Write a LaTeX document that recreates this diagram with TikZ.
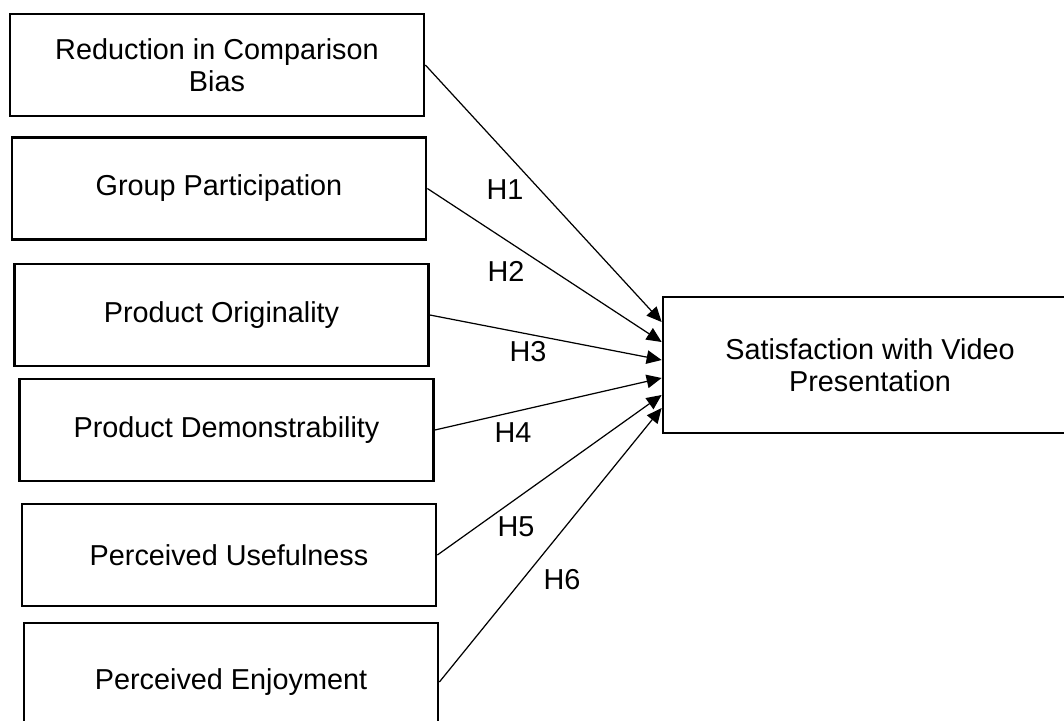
\documentclass[tikz,border=0pt]{standalone}
\usepackage{fontspec}
\setmainfont{Liberation Sans}
\usetikzlibrary{arrows.meta}

\begin{document}
\begin{tikzpicture}[x=0.02cm, y=-0.02cm,
            factor/.style = {draw,
            line width=1.6pt,
            minimum width=8.28cm,
            minimum height=2.04cm,
            inner sep=0pt,
            align=center,
            font=\fontsize{16.4}{18.2}\selectfont},
            hyp/.style = {inner sep=0pt,
            font=\fontsize{16.4}{18.2}\selectfont},
            link/.style = {line width=0.7pt,
            -{Triangle[length=0.3cm,width=0.27cm]}}]
        \useasboundingbox (0,0) rectangle (1064,720);
        \clip (0,0) rectangle (1064,720);

        % Antecedents
        \node[factor] (bias) at (217,65) {Reduction in Comparison\\Bias};
        \node[factor] (group) at (219,188.5) {Group Participation};
        \node[factor] (orig) at (221.5,315) {Product Originality};
        \node[factor] (demo) at (226.5,430) {Product Demonstrability};
        \node[factor] (useful) at (229,555) {Perceived Usefulness};
        \node[factor, minimum height=2.36cm] (enjoy) at (231,682) {Perceived Enjoyment};

        % Outcome
        \node[factor, minimum height=2.72cm] (sat) at (870,365) {Satisfaction with Video\\Presentation};

        % Hypothesised paths
        \draw[link] (bias.east) -- ([yshift=0.86cm]sat.west);
        \draw[link] (group.east) -- ([yshift=0.46cm]sat.west);
        \draw[link] (orig.east) -- ([yshift=0.1cm]sat.west);
        \draw[link] (demo.east) -- ([yshift=-0.26cm]sat.west);
        \draw[link] (useful.east) -- ([yshift=-0.6cm]sat.west);
        \draw[link] (enjoy.east) -- ([yshift=-0.86cm]sat.west);

        % Path labels
        \node[hyp] (h1) at (505,190) {H1};
        \node[hyp] (h2) at (506,271) {H2};
        \node[hyp] (h3) at (528,352) {H3};
        \node[hyp] (h4) at (513,433) {H4};
        \node[hyp] (h5) at (516,527) {H5};
        \node[hyp] (h6) at (562,580) {H6};
    \end{tikzpicture}
\end{document}
